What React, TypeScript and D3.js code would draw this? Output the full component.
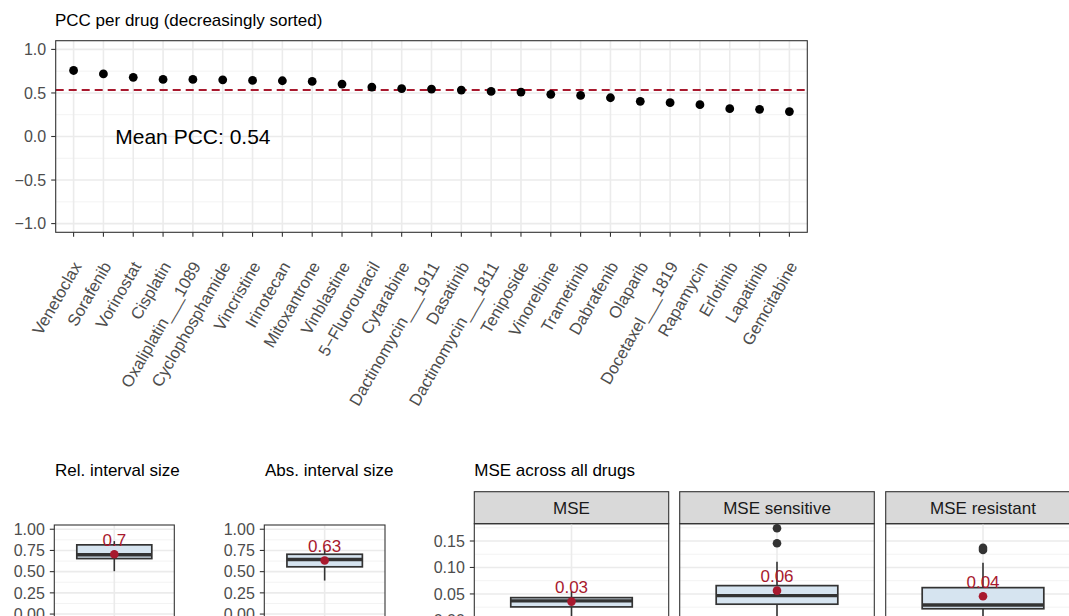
import * as d3 from "d3";

// PCC per drug (sorted decreasingly)
const drugs = [
  "Venetoclax", "Sorafenib", "Vorinostat", "Cisplatin", "Oxaliplatin___1089",
  "Cyclophosphamide", "Vincristine", "Irinotecan", "Mitoxantrone", "Vinblastine",
  "5\u2212Fluorouracil", "Cytarabine", "Dactinomycin___1911", "Dasatinib",
  "Dactinomycin___1811", "Teniposide", "Vinorelbine", "Trametinib", "Dabrafenib",
  "Olaparib", "Docetaxel___1819", "Rapamycin", "Erlotinib", "Lapatinib", "Gemcitabine",
];
const pcc = [
  0.758, 0.719, 0.68, 0.655, 0.655, 0.651, 0.644, 0.64, 0.632, 0.602, 0.567, 0.55,
  0.545, 0.533, 0.518, 0.51, 0.484, 0.472, 0.445, 0.404, 0.388, 0.365, 0.32, 0.312, 0.286,
];
const pccTicks = [-1, -0.5, 0, 0.5, 1];
const pccMinor = [-0.75, -0.25, 0.25, 0.75];
const pccMeanLabel = "Mean PCC: 0.54";

// interval size boxplots
const intervalTitles = ["Rel. interval size", "Abs. interval size"];
const intervalLower = [0.505, 0.395];
const intervalQ1 = [0.654, 0.557];
const intervalMedian = [0.7, 0.643];
const intervalQ3 = [0.816, 0.705];
const intervalUpper = [0.86, 0.77];
const intervalMean = [0.705, 0.631];
const intervalMeanLabel = ["0.7", "0.63"];
const intervalTicks = [0, 0.25, 0.5, 0.75, 1];
const intervalMinor = [0.125, 0.375, 0.625, 0.875];

// MSE facets
const mseFacets = ["MSE", "MSE sensitive", "MSE resistant"];
const mseLower = [0.006, 0.004, 0.003];
const mseQ1 = [0.0255, 0.0306, 0.022];
const mseMedian = [0.0368, 0.0468, 0.029];
const mseQ3 = [0.043, 0.0657, 0.0619];
const mseUpper = [0.055, 0.111, 0.109];
const mseMean = [0.0355, 0.0562, 0.0457];
const mseMeanLabel = ["0.03", "0.06", "0.04"];
const mseOutliers = [[], [0.1457, 0.174], [0.133, 0.137]];
const mseTicks = [0, 0.05, 0.1, 0.15];
const mseMinor = [0.025, 0.075, 0.125, 0.175];

const FONT = "'Liberation Sans', Arial, Helvetica, sans-serif";
const RED = "#a8192e";
const BOXFILL = "#d6e4f0";
const DARK = "#333333";
const GRID = "#ebebeb";
const GRID_MINOR = "#f3f3f3";
const TICKTXT = "#4d4d4d";

type Panel = { x0: number; x1: number; y0: number; y1: number };

function expand(lo: number, hi: number): [number, number] {
  const pad = (hi - lo) * 0.05;
  return [lo - pad, hi + pad];
}

function YAxis({ p, y, ticks, fmt }: { p: Panel; y: d3.ScaleLinear<number, number>; ticks: number[]; fmt: (v: number) => string }) {
  return (
    <g>
      {ticks.map((t) => (
        <g key={t}>
          <line x1={p.x0 - 4.5} x2={p.x0} y1={y(t)} y2={y(t)} stroke={DARK} strokeWidth={1.1} />
          <text x={p.x0 - 9.5} y={y(t)} dy="0.36em" textAnchor="end" fontSize={16} fill={TICKTXT} fontFamily={FONT}>
            {fmt(t)}
          </text>
        </g>
      ))}
    </g>
  );
}

function HGrid({ p, y, major, minor }: { p: Panel; y: d3.ScaleLinear<number, number>; major: number[]; minor: number[] }) {
  return (
    <g>
      {minor.map((t) => (
        <line key={"m" + t} x1={p.x0} x2={p.x1} y1={y(t)} y2={y(t)} stroke={GRID_MINOR} strokeWidth={1} />
      ))}
      {major.map((t) => (
        <line key={"M" + t} x1={p.x0} x2={p.x1} y1={y(t)} y2={y(t)} stroke={GRID} strokeWidth={1.6} />
      ))}
    </g>
  );
}

function Box({
  p, y, lower, q1, median, q3, upper, mean, label, outliers,
}: {
  p: Panel; y: d3.ScaleLinear<number, number>; lower: number; q1: number; median: number;
  q3: number; upper: number; mean: number; label: string; outliers: number[];
}) {
  const x = d3.scalePoint<string>().domain(["a"]).range([p.x0, p.x1]).padding(0.6);
  const cx = x("a") as number;
  const bw = ((p.x1 - p.x0) / 1.2) * 0.75;
  return (
    <g>
      <line x1={cx} x2={cx} y1={p.y0} y2={p.y1} stroke={GRID} strokeWidth={1.6} />
      <line x1={cx} x2={cx} y1={y(q3)} y2={y(upper)} stroke={DARK} strokeWidth={1.6} />
      <line x1={cx} x2={cx} y1={y(q1)} y2={y(lower)} stroke={DARK} strokeWidth={1.6} />
      <rect x={cx - bw / 2} width={bw} y={y(q3)} height={y(q1) - y(q3)} fill={BOXFILL} stroke={DARK} strokeWidth={1.7} />
      <line x1={cx - bw / 2} x2={cx + bw / 2} y1={y(median)} y2={y(median)} stroke={DARK} strokeWidth={3.4} />
      {outliers.map((o, i) => (
        <circle key={i} cx={cx} cy={y(o)} r={4.3} fill={DARK} />
      ))}
      <circle cx={cx} cy={y(mean)} r={4.3} fill={RED} />
      <text x={cx} y={y(mean) - 8.5} textAnchor="middle" fontSize={17} fill={RED} fontFamily={FONT}>
        {label}
      </text>
    </g>
  );
}

export default function App() {
  // top chart
  const top: Panel = { x0: 55.7, x1: 807.3, y0: 40.7, y1: 232.3 };
  const xTop = d3.scalePoint<string>().domain(drugs).range([top.x0, top.x1]).padding(0.6);
  const yTop = d3.scaleLinear().domain(expand(-1, 1)).range([top.y1, top.y0]);
  const pccMean = d3.mean(pcc) as number;

  // interval panels
  const intervalPanels: Panel[] = [
    { x0: 54.3, x1: 174.3, y0: 525, y1: 618.3 },
    { x0: 264.3, x1: 385, y0: 525, y1: 618.3 },
  ];
  const yInt = d3.scaleLinear().domain(expand(0, 1)).range([618.3, 525]);

  // mse facets
  const msePanels: Panel[] = [
    { x0: 474.3, x1: 668.7, y0: 523.7, y1: 625 },
    { x0: 679.7, x1: 874.3, y0: 523.7, y1: 625 },
    { x0: 885.7, x1: 1080.3, y0: 523.7, y1: 625 },
  ];
  const stripTop = 491.7;
  const mseMax = d3.max(mseOutliers.flat()) as number;
  const yMse = d3.scaleLinear().domain(expand(0, mseMax)).range([625, 523.7]);

  const fmt1 = (v: number) => (v < 0 ? "\u2212" : "") + Math.abs(v).toFixed(1);
  const fmt2 = (v: number) => v.toFixed(2);

  return (
    <div style={{ position: "fixed", left: 0, top: 0, width: 1069, height: 616, overflow: "hidden", background: "#fff" }}>
      <svg width={1069} height={640} style={{ display: "block" }}>
        <rect width={1069} height={640} fill="#fff" />

        {/* ---- PCC per drug ---- */}
        <text x={55} y={26} fontSize={17} fontFamily={FONT} fill="#000">
          PCC per drug (decreasingly sorted)
        </text>
        <HGrid p={top} y={yTop} major={pccTicks} minor={pccMinor} />
        {drugs.map((d) => (
          <line key={d} x1={xTop(d)} x2={xTop(d)} y1={top.y0} y2={top.y1} stroke={GRID} strokeWidth={1.6} />
        ))}
        <line
          x1={top.x0} x2={top.x1} y1={yTop(pccMean)} y2={yTop(pccMean)}
          stroke={RED} strokeWidth={2} strokeDasharray="8,5"
        />
        {drugs.map((d, i) => (
          <circle key={d} cx={xTop(d)} cy={yTop(pcc[i])} r={4.4} fill="#000" />
        ))}
        <text
          x={xTop(drugs[4])} y={yTop(0)} dy="0.36em" textAnchor="middle"
          fontSize={21} fontFamily={FONT} fill="#000"
        >
          {pccMeanLabel}
        </text>
        <rect x={top.x0} y={top.y0} width={top.x1 - top.x0} height={top.y1 - top.y0} fill="none" stroke={DARK} strokeWidth={1.1} />
        <YAxis p={top} y={yTop} ticks={pccTicks} fmt={fmt1} />
        {drugs.map((d) => {
          const x = xTop(d) as number;
          return (
            <g key={d}>
              <line x1={x} x2={x} y1={top.y1} y2={top.y1 + 4.5} stroke={DARK} strokeWidth={1.1} />
              <text
                transform={`translate(${x + 8.5},${266}) rotate(-60)`}
                textAnchor="end" fontSize={16.6} fill={TICKTXT} fontFamily={FONT}
              >
                {d}
              </text>
            </g>
          );
        })}

        {/* ---- interval size boxplots ---- */}
        {intervalPanels.map((p, i) => (
          <g key={i}>
            <text x={p.x0 + 0.7} y={476} fontSize={17} fontFamily={FONT} fill="#000">
              {intervalTitles[i]}
            </text>
            <HGrid p={p} y={yInt} major={intervalTicks} minor={intervalMinor} />
            <Box
              p={p} y={yInt} lower={intervalLower[i]} q1={intervalQ1[i]} median={intervalMedian[i]}
              q3={intervalQ3[i]} upper={intervalUpper[i]} mean={intervalMean[i]}
              label={intervalMeanLabel[i]} outliers={[]}
            />
            <rect x={p.x0} y={p.y0} width={p.x1 - p.x0} height={p.y1 - p.y0} fill="none" stroke={DARK} strokeWidth={1.1} />
            <YAxis p={p} y={yInt} ticks={intervalTicks} fmt={fmt2} />
          </g>
        ))}

        {/* ---- MSE across all drugs ---- */}
        <text x={474.3} y={476} fontSize={17} fontFamily={FONT} fill="#000">
          MSE across all drugs
        </text>
        {msePanels.map((p, i) => (
          <g key={i}>
            <rect x={p.x0} y={stripTop} width={p.x1 - p.x0} height={p.y0 - stripTop} fill="#d9d9d9" stroke={DARK} strokeWidth={1.1} />
            <text
              x={(p.x0 + p.x1) / 2} y={(stripTop + p.y0) / 2} dy="0.36em" textAnchor="middle"
              fontSize={17} fontFamily={FONT} fill="#1a1a1a"
            >
              {mseFacets[i]}
            </text>
            <HGrid p={p} y={yMse} major={mseTicks} minor={mseMinor} />
            <Box
              p={p} y={yMse} lower={mseLower[i]} q1={mseQ1[i]} median={mseMedian[i]}
              q3={mseQ3[i]} upper={mseUpper[i]} mean={mseMean[i]}
              label={mseMeanLabel[i]} outliers={mseOutliers[i]}
            />
            <rect x={p.x0} y={p.y0} width={p.x1 - p.x0} height={p.y1 - p.y0} fill="none" stroke={DARK} strokeWidth={1.1} />
          </g>
        ))}
        <YAxis p={msePanels[0]} y={yMse} ticks={mseTicks} fmt={fmt2} />
      </svg>
    </div>
  );
}
